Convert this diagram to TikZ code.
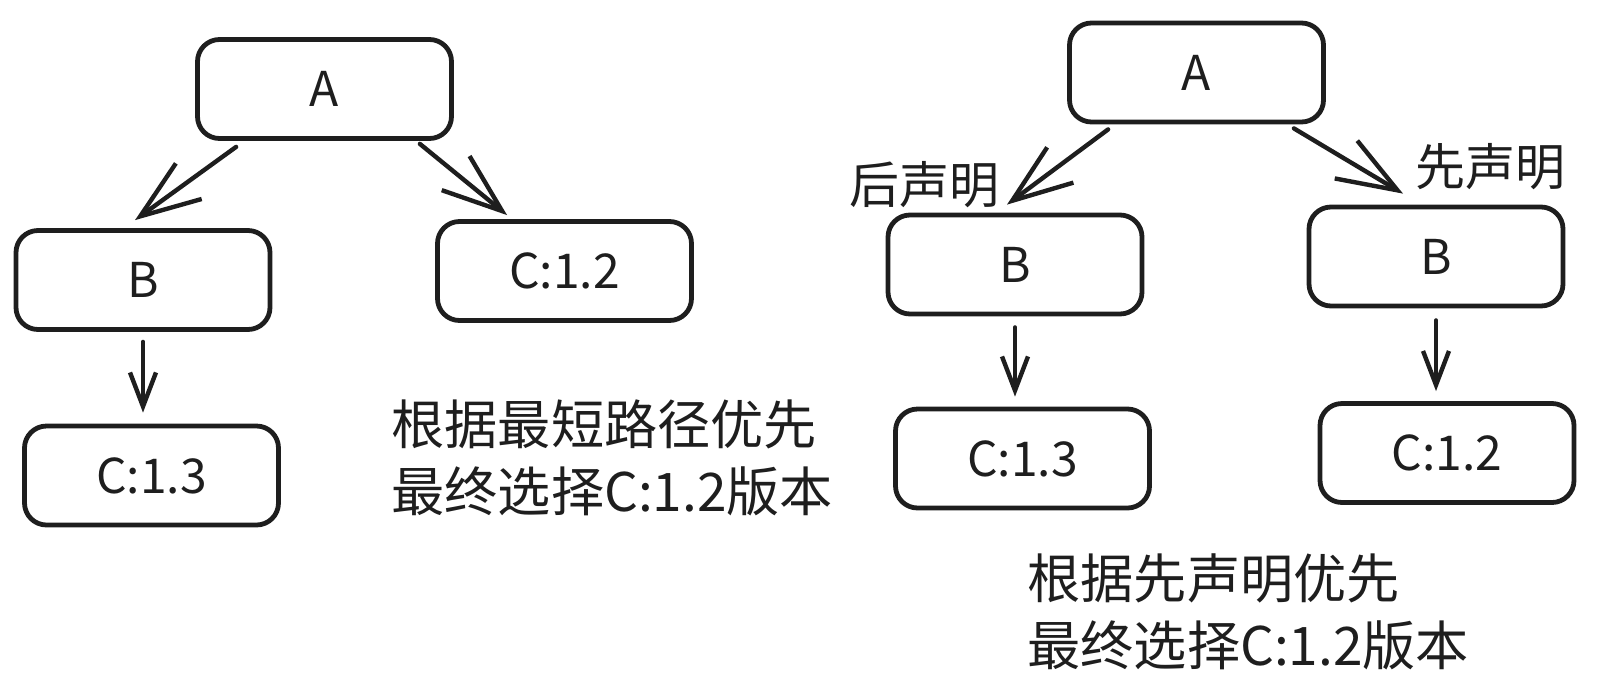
\documentclass[tikz,border=0pt]{standalone}
\usepackage{fontspec}
\newfontfamily\cjk{Noto Sans CJK SC}
\usetikzlibrary{arrows.meta}
\definecolor{ink}{HTML}{1E1E1E}

\begin{document}
\begin{tikzpicture}
[
	x=0.5pt, y=-0.5pt,
	box/.style={draw=ink,line width=2.4pt,rounded corners=11pt,minimum width=127pt,minimum height=49.5pt,inner sep=0pt,text=ink,font=\cjk\fontsize{24pt}{24pt}\selectfont},
	link/.style={draw=ink,line width=2.2pt,line cap=round,line join=round,-{Straight Barb[length=30pt,width=22pt]}},
	down/.style={draw=ink,line width=2.2pt,line cap=round,line join=round,-{Straight Barb[length=17pt,width=13pt]}},
	note/.style={text=ink,inner sep=0pt,align=left,anchor=west,font=\cjk\fontsize{26.6pt}{33.5pt}\selectfont},
	tag/.style={text=ink,inner sep=0pt,font=\cjk\fontsize{25pt}{25pt}\selectfont}
]
	\useasboundingbox (0,0) rectangle (1600,692);

	% shortest path wins
	\node[box] at (324.5,89) (lA) {A};
	\node[box] at (143,280) (lB) {B};
	\node[box] at (564.5,271) (lC12) {C:1.2};
	\node[box] at (151.5,475.5) (lC13) {C:1.3};

	\draw[link] ([xshift=20.5pt,yshift=-3pt]lA.south west) -- ([xshift=-4pt,yshift=4pt]lB.north);
	\draw[link] ([xshift=-17pt,yshift=-1.5pt]lA.south east) -- ([xshift=36pt,yshift=2pt]lC12.north west);
	\draw[down] ([yshift=-5pt]lB.south) -- ([yshift=5.5pt]lB.south |- lC13.north);

	\node[note] at (391,457.5) (lnote) {根据最短路径优先\\最终选择C:1.2版本};

	% first declaration wins
	\node[box] at (1196.5,72.5) (rA) {A};
	\node[box] at (1015,264.5) (rB1) {B};
	\node[box] at (1022.5,458.5) (rC13) {C:1.3};
	\node[box] at (1436,256.5) (rB2) {B};
	\node[box] at (1447,453) (rC12) {C:1.2};

	\draw[link] ([xshift=20.5pt,yshift=-2.5pt]rA.south west) -- ([xshift=-4pt,yshift=4pt]rB1.north);
	\draw[link] ([xshift=-16pt,yshift=-2pt]rA.south east) -- ([xshift=-16.5pt,yshift=5.5pt]rB2.north);
	\draw[down] ([yshift=-5.5pt]rB1.south) -- ([yshift=5pt]rB1.south |- rC13.north);
	\draw[down] ([yshift=-6pt]rB2.south) -- ([yshift=5pt]rB2.south |- rC12.north);

	\node[tag] at (924,185) (later) {后声明};
	\node[tag] at (1490,167) (first) {先声明};

	\node[note] at (1027,612) (rnote) {根据先声明优先\\最终选择C:1.2版本};

\end{tikzpicture}
\end{document}
